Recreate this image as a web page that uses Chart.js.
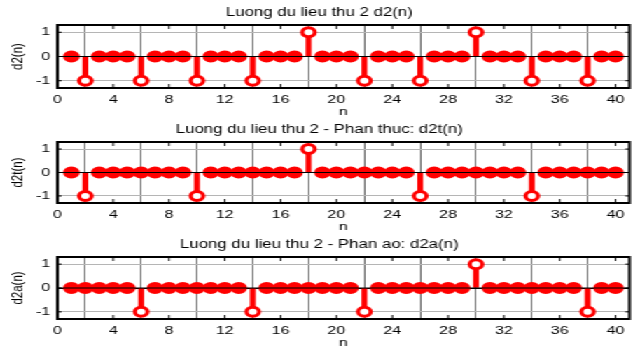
<!DOCTYPE html>
<html>
<head>
<meta charset="utf-8">
<script src="https://cdn.jsdelivr.net/npm/chart.js@4.4.1/dist/chart.umd.min.js"></script>
<style>
  html, body { margin: 0; padding: 0; background: #fff; overflow: hidden; }
  /* figure is laid out narrow and stretched sideways, like the exported plot */
  #fig { position: absolute; left: 0; top: 0; width: 457px; height: 352px; transform: scaleX(1.4004); transform-origin: 0 0; }
  .ax { position: absolute; left: 0; width: 457px; }
</style>
</head>
<body>
<div id="fig">
  <div class="ax" style="top:0;height:119px"><canvas id="c1"></canvas></div>
  <div class="ax" style="top:117px;height:117px"><canvas id="c2"></canvas></div>
  <div class="ax" style="top:232px;height:118px"><canvas id="c3"></canvas></div>
</div>
<script>
/* ===== Luong du lieu thu 2 — stem plots d2, d2t, d2a ===== */
const n = [1, 2, 3, 4, 5, 6, 7, 8, 9, 10, 11, 12, 13, 14, 15, 16, 17, 18, 19, 20,
           21, 22, 23, 24, 25, 26, 27, 28, 29, 30, 31, 32, 33, 34, 35, 36, 37, 38, 39, 40];
const d2  = [0, -1, 0, 0, 0, -1, 0, 0, 0, -1, 0, 0, 0, -1, 0, 0, 0, 1, 0, 0,
             0, -1, 0, 0, 0, -1, 0, 0, 0, 1, 0, 0, 0, -1, 0, 0, 0, -1, 0, 0];
const d2t = [0, -1, 0, 0, 0, 0, 0, 0, 0, -1, 0, 0, 0, 0, 0, 0, 0, 1, 0, 0,
             0, 0, 0, 0, 0, -1, 0, 0, 0, 0, 0, 0, 0, -1, 0, 0, 0, 0, 0, 0];
const d2a = [0, 0, 0, 0, 0, -1, 0, 0, 0, 0, 0, 0, 0, -1, 0, 0, 0, 0, 0, 0,
             0, -1, 0, 0, 0, 0, 0, 0, 0, 1, 0, 0, 0, 0, 0, 0, 0, -1, 0, 0];
const xTicks = [0, 4, 8, 12, 16, 20, 24, 28, 32, 36, 40];
const yTicks = [-1, 0, 1];

const FONT = "'Liberation Sans', Arial, Helvetica, sans-serif";
const RED = "#ff0000";

// baseline, inward tick marks and the axes box, drawn over the stems
const axesBox = {
  id: "axesBox",
  afterDatasetsDraw(chart) {
    const { ctx, chartArea: a, scales: { x, y } } = chart;
    ctx.save();
    ctx.strokeStyle = "#000";
    ctx.lineWidth = 1;
    const y0 = y.getPixelForValue(0);
    ctx.beginPath();
    ctx.moveTo(a.left, y0); ctx.lineTo(a.right, y0);
    xTicks.forEach(v => {
      const px = x.getPixelForValue(v);
      ctx.moveTo(px, a.top); ctx.lineTo(px, a.top + 4);
      ctx.moveTo(px, a.bottom); ctx.lineTo(px, a.bottom - 4);
    });
    yTicks.forEach(v => {
      const py = y.getPixelForValue(v);
      ctx.moveTo(a.left, py); ctx.lineTo(a.left + 3, py);
      ctx.moveTo(a.right, py); ctx.lineTo(a.right - 3, py);
    });
    ctx.stroke();
    ctx.lineWidth = 2;
    ctx.strokeRect(a.left, a.top, a.right - a.left, a.bottom - a.top);
    ctx.restore();
  }
};

function stemPlot(id, values, title, ylabel) {
  const pts = n.map((k, i) => ({ x: k, y: values[i] }));
  return new Chart(document.getElementById(id), {
    type: "bar",
    data: {
      datasets: [
        { type: "scatter", data: pts, order: 0,
          pointRadius: 4.5, pointHoverRadius: 4.5, pointBorderWidth: 3,
          pointBorderColor: RED,
          pointBackgroundColor: values.map(v => v === 0 ? RED : "#fff") },
        { type: "bar", data: pts, order: 1,
          backgroundColor: RED, borderWidth: 0, barThickness: 3.5 }
      ]
    },
    options: {
      responsive: true, maintainAspectRatio: false, animation: false,
      layout: { padding: { left: 0, right: 1, top: 0, bottom: 0 } },
      plugins: {
        legend: { display: false },
        tooltip: { enabled: false },
        title: { display: true, text: title, color: "#000",
          font: { family: FONT, size: 12, weight: "normal" },
          padding: { top: 5.5, bottom: 5.1 } }
      },
      scales: {
        x: {
          type: "linear", min: 0, max: 41, offset: false,
          afterBuildTicks: s => { s.ticks = xTicks.map(v => ({ value: v })); },
          afterFit: s => { s.height = 31; },
          grid: { color: "#6e6e6e", drawTicks: false },
          border: { display: false },
          ticks: { color: "#000", font: { family: FONT, size: 11.5 }, padding: 5, maxRotation: 0, autoSkip: false },
          title: { display: true, text: "n", color: "#000", font: { family: FONT, size: 11.5 }, padding: 0 }
        },
        y: {
          min: -1.3, max: 1.3,
          afterBuildTicks: s => { s.ticks = yTicks.map(v => ({ value: v })); },
          afterFit: s => { s.width = 41; },
          grid: { color: c => c.tick && c.tick.value === 0 ? "#000" : "#b5b5b5", drawTicks: false },
          border: { display: false },
          ticks: { color: "#000", font: { family: FONT, size: 11.5 }, padding: 5 },
          title: { display: true, text: ylabel, color: "#000", font: { family: FONT, size: 11.5 }, padding: { top: 6, bottom: 0 } }
        }
      }
    },
    plugins: [axesBox]
  });
}

stemPlot("c1", d2,  "Luong du lieu thu 2 d2(n)", "d2(n)");
stemPlot("c2", d2t, "Luong du lieu thu 2 - Phan thuc: d2t(n)", "d2t(n)");
stemPlot("c3", d2a, "Luong du lieu thu 2 - Phan ao: d2a(n)", "d2a(n)");
</script>
</body>
</html>
